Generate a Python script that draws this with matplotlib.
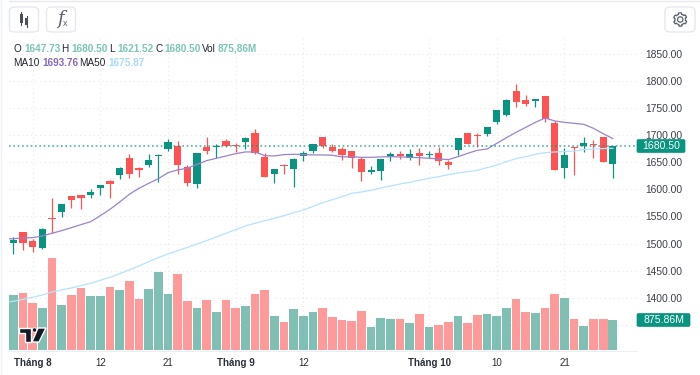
import numpy as np
import matplotlib
matplotlib.use('Agg')
from matplotlib import pyplot as plt
from matplotlib.patches import FancyBboxPatch, Polygon, Rectangle, Ellipse

opens = [1501, 1520.7, 1505.4, 1492.4, 1547.2, 1557.7, 1587.2, 1589, 1590.3, 1602.6,
         1614.9, 1627.2, 1658, 1640.1, 1645, 1661, 1674.6, 1679.5, 1642, 1610.6,
         1677.7, 1678.3, 1689.4, 1682, 1687, 1704.2, 1660.5, 1628.5, 1645.7, 1638.3,
         1661.1, 1671.6, 1696.2, 1677.7, 1674.6, 1670.9, 1656.2, 1632.8, 1634, 1660.5,
         1666, 1658.6, 1667.2, 1663.6, 1667.9, 1651.2, 1672.2, 1703.6, 1700.5, 1701.7,
         1723.8, 1737.4, 1782.3, 1765, 1763.8, 1772.4, 1722.6, 1639.5, 1678.3, 1679.5,
         1683.8, 1696.1, 1647.73]
highs = [1511.5, 1520.7, 1508.4, 1528.7, 1583.5, 1573, 1587.2, 1589.7, 1600.1, 1608.1,
         1616.7, 1640.7, 1665.4, 1640.7, 1664.7, 1664.7, 1692.4, 1689.4, 1645, 1667,
         1696.2, 1683.3, 1693.1, 1685.1, 1696, 1711.6, 1666.6, 1637.1, 1646, 1658.6,
         1670.9, 1683.9, 1696.2, 1683.3, 1677.7, 1671, 1659.2, 1643.2, 1657, 1668.5,
         1670.9, 1674, 1675.9, 1670.3, 1678.9, 1654.3, 1694.3, 1703.6, 1703.6, 1716,
         1746.6, 1766.3, 1794, 1774.3, 1767, 1772.4, 1726.3, 1675.8, 1678.3, 1696.7,
         1691.2, 1696.1, 1680.5]
lows = [1481.4, 1487.5, 1485, 1490, 1518.9, 1549.7, 1566.3, 1563.8, 1584.7, 1590.3,
        1584.7, 1618.6, 1621.7, 1623.5, 1642, 1614.3, 1671.5, 1628.4, 1607, 1603.2,
        1666, 1658, 1677.7, 1669.1, 1674.6, 1664.8, 1623.6, 1611.9, 1627.9, 1604.5,
        1652.5, 1667.9, 1676.5, 1669.7, 1653.7, 1640.2, 1615.6, 1627.9, 1618, 1653.1,
        1656.2, 1654.3, 1644.5, 1657.4, 1645.1, 1637.1, 1663.6, 1684.5, 1678.9, 1698,
        1721.4, 1734.9, 1752.1, 1754, 1752.1, 1724.4, 1635.8, 1620.4, 1626.6, 1668.4,
        1658.6, 1650, 1621.52]
closes = [1506.6, 1501.7, 1494.3, 1527.5, 1545.4, 1573, 1581, 1583.5, 1595.8, 1607.5,
          1610.6, 1640.1, 1629, 1635.8, 1653.7, 1663.5, 1686.9, 1645, 1612.5, 1666.6,
          1671.6, 1680.8, 1680.8, 1680.2, 1695.6, 1666.6, 1623.6, 1637.1, 1642.6, 1656.8,
          1667.2, 1683.9, 1680.2, 1670.3, 1663.6, 1658.6, 1632.8, 1635.2, 1656.8, 1664.8,
          1661.1, 1666, 1661.1, 1665.4, 1653.1, 1645.1, 1694.3, 1684.5, 1698, 1715.9,
          1746.6, 1764.4, 1760.7, 1757, 1766.9, 1730.6, 1635.8, 1662.9, 1677, 1686.3,
          1681.4, 1651.2, 1680.5]
volumes = [1627, 1665, 1376, 1232, 2705, 1328, 1607, 1829, 1598, 1588,
           1858, 1752, 2021, 1511, 1790, 2291, 1636, 2233, 1453, 1232,
           1482, 1107, 1473, 1242, 1290, 1646, 1771, 1011, 837, 1203,
           1011, 1126, 1242, 972, 876, 866, 1136, 674, 953, 924,
           905, 809, 1049, 674, 751, 818, 1011, 809, 1020, 1049,
           1001, 1242, 1502, 1117, 1088, 1232, 1636, 1530, 905, 712,
           924, 905, 875.86]
ma10 = [1508, 1509, 1510.3, 1510.9, 1514, 1518.9, 1523.8, 1529.3, 1534.9, 1540.4, 1551.5,
        1563.2, 1576.7, 1590.9, 1602, 1611.2, 1619.8, 1630.9, 1636, 1639, 1646.3,
        1653.1, 1657.4, 1661.7, 1666, 1669.1, 1669.1, 1662.3, 1661.7, 1664.2, 1664.8,
        1664.2, 1663.6, 1663.6, 1663, 1659.9, 1660.5, 1659.2, 1659.2, 1659.9, 1660.5,
        1659.9, 1659.2, 1658.6, 1657.4, 1656.2, 1655, 1660.5, 1666.6, 1672.2, 1674.6,
        1685, 1695.5, 1705.4, 1714.6, 1723.8, 1731.8, 1726.3, 1723.8, 1722, 1720.1,
        1712.7, 1702.9, 1693.76]
ma50 = [1391.5, 1393.4, 1397, 1400.7, 1405, 1410.6, 1414.3, 1418, 1422.3, 1426.6, 1432.1,
        1437.7, 1444.4, 1451.2, 1458.6, 1466.6, 1474, 1480.7, 1486.9, 1493, 1499.2,
        1505.4, 1512.1, 1518.9, 1525.7, 1532.4, 1537.4, 1542.3, 1546.6, 1551.5, 1557.1,
        1562, 1568.7, 1575.5, 1581, 1586.6, 1592.8, 1595.2, 1598.3, 1602.6, 1606.3,
        1610, 1613, 1616.8, 1620.5, 1623.5, 1627.2, 1630.3, 1632.8, 1635.2, 1640.1,
        1645, 1651.2, 1656.8, 1660.5, 1664.8, 1667.8, 1669.1, 1669.7, 1670.9, 1673.4,
        1674.6, 1675.3, 1675.87]
price_ticks = [1400, 1450, 1500, 1550, 1600, 1650, 1700, 1750, 1800, 1850]
grid_prices = [1350] + price_ticks
date_pos = [2, 9, 16, 23, 30, 43, 50, 57]
date_labels = ['Tháng 8', '12', '21', 'Tháng 9', '12', 'Tháng 10', '10', '21']
date_bold = [True, False, False, True, False, True, False, False]
last_price = 1680.50
last_label = '1680.50'
vol_label = '875.86M'
legend_row1 = [('O', 13), ('1647.73', 24), ('H', 61.5), ('1680.50', 71.5), ('L', 109),
               ('1621.52', 117), ('C', 155), ('1680.50', 164.5), ('Vol', 202), ('875,86M', 218)]
legend_row2 = [('MA10', 13), ('1693.76', 42), ('MA50', 79), ('1675.87', 108)]

GREEN = '#089481'
RED = '#ff5252'
VGREEN = '#7fbfb4'
VRED = '#ff9a9a'
W, H = 700, 375
plt.rcParams['font.family'] = 'Liberation Sans'


def fx(x):
    return x / W


def fy(y):
    return 1 - y / H


fig = plt.figure(figsize=(7, 3.75), dpi=100, facecolor='white')
box = [fx(9), fy(351), fx(637) - fx(9), fy(38) - fy(351)]
ax0 = fig.add_axes(box)
ax2 = fig.add_axes(box, sharex=ax0)
ax = fig.add_axes(box, sharex=ax0, sharey=ax0)
ax2.patch.set_alpha(0)
ax.patch.set_alpha(0)

xs = np.arange(len(closes))
ups = [c >= o for o, c in zip(opens, closes)]

# grid goes in the bottom axes so the volume bars cover it
ax0.set_xlim(-0.445, 64.5)
ax0.set_ylim(1301.6, 1879.5)
ax0.hlines(grid_prices, -1, 65, color='#e6e8ed', lw=0.8, ls=(0, (1, 3)))
ax0.vlines(date_pos, 1301.6, 1879.5, color='#e6e8ed', lw=0.8, ls=(0, (1, 3)))
ax0.tick_params(length=0, labelleft=False, labelbottom=False)

ax2.bar(xs, volumes, width=0.9, color=[VGREEN if u else VRED for u in ups])
ax2.set_ylim(-20, 9120)
ax2.set_yticks([])
ax2.tick_params(axis='x', length=0, labelbottom=False)

for x, l, h, u in zip(xs, lows, highs, ups):
    ax.vlines(x, l, h, color=GREEN if u else RED, lw=0.9, zorder=3)
bottoms = [min(o, c) for o, c in zip(opens, closes)]
heights = [max(abs(c - o), 1.5) for o, c in zip(opens, closes)]
ax.bar(xs, heights, bottom=bottoms, width=0.74, color=[GREEN if u else RED for u in ups], zorder=4)

ma_x = np.arange(-1, len(closes))
ax.plot(ma_x, ma10, color='#9b82cc', lw=0.9, zorder=5)
ax.plot(ma_x, ma50, color='#b5e3fb', lw=0.9, zorder=5)
ax.axhline(last_price, color=GREEN, lw=1.2, ls=(0, (1, 1.6)), alpha=0.7, zorder=6)

ax.set_yticks(price_ticks)
ax.set_yticklabels(['%.2f' % p for p in price_ticks])
ax.yaxis.tick_right()
ax.tick_params(axis='y', length=0, pad=5.8, labelsize=7.4, labelcolor='#3a3f4a')
ax.tick_params(axis='x', length=0, pad=5)
ax.set_xticks(date_pos)
ax.set_xticklabels(date_labels, fontsize=7, color='#2a2e39')
for lab, bold in zip(ax.get_xticklabels(), date_bold):
    if bold:
        lab.set_fontweight('bold')
for a in (ax0, ax, ax2):
    for s in a.spines.values():
        s.set_visible(False)
ax.spines['bottom'].set_visible(True)
ax.spines['bottom'].set_color('#eceef2')

# legend rows
for i, (txt, x) in enumerate(legend_row1):
    fig.text(fx(x), fy(48.7), txt, fontsize=7.2, va='center', color='#7cc4b6' if i % 2 else '#23262e',
             fontweight='bold' if i % 2 else 'normal')
row2_colors = ['#23262e', '#8468bd', '#23262e', '#a6dafb']
for (txt, x), c, b in zip(legend_row2, row2_colors, ['normal', 'bold', 'normal', 'bold']):
    fig.text(fx(x), fy(63.3), txt, fontsize=7.2, va='center', color=c, fontweight=b)


def tag(x0, x1, yc, txt):
    fig.patches.append(FancyBboxPatch((fx(x0), fy(yc + 6.5)), fx(x1 - x0), 13 / H,
                                      boxstyle='round,pad=0,rounding_size=0.003',
                                      transform=fig.transFigure, fc=GREEN, ec=GREEN, lw=0.5, zorder=8))
    fig.text(fx((x0 + x1) / 2), fy(yc), txt, fontsize=7.6, color='white', ha='center', va='center', zorder=9)


tag(637, 685, 146, last_label)
tag(637, 690, 320, vol_label)


def button(x0, x1):
    fig.patches.append(FancyBboxPatch((fx(x0), fy(32)), fx(x1 - x0), 25 / H,
                                      boxstyle='round,pad=0,rounding_size=0.009', mutation_aspect=H / W * 1.9,
                                      transform=fig.transFigure, fc='white', ec='#e3e7f0', lw=0.9))


button(9.5, 38.5)
button(46.5, 75.5)
button(665, 695)

# candle icon
for x, t, b, bt, bb in [(21, 12, 25, 14, 23), (26.5, 16, 27, 18, 25)]:
    fig.add_artist(plt.Line2D([fx(x), fx(x)], [fy(t), fy(b)], color='#4a4e59', lw=0.8))
    fig.patches.append(Rectangle((fx(x - 1.5), fy(bb)), fx(3), (bb - bt) / H, transform=fig.transFigure,
                                 fc='#4a4e59', ec='none'))
# fx icon
fig.text(fx(60), fy(19), 'f', fontsize=13, family='DejaVu Serif', style='italic', color='#5a5f6b',
         ha='center', va='center')
fig.text(fx(65), fy(24), 'x', fontsize=6.5, color='#5a5f6b', ha='center', va='center')

# gear icon
ang = np.linspace(0, 2 * np.pi, 97)[:-1]
rad = 6.7 - 1.4 * (np.cos(6 * ang) < 0)
gx, gy = 680.2 + rad * np.sin(ang), 19.5 + rad * np.cos(ang)
fig.patches.append(Polygon(np.c_[fx(gx), fy(gy)], closed=True, transform=fig.transFigure,
                           fc='none', ec='#5a6070', lw=0.9))
fig.patches.append(Ellipse((fx(680.2), fy(19.5)), 5.4 / W, 5.4 / H,
                           transform=fig.transFigure, fc='none', ec='#5a6070', lw=0.9))

# tradingview logo
logo = [[(19, 328), (31, 328), (31, 342), (25, 342), (25, 333), (19, 333)],
        [(38, 328), (46, 328), (39, 342), (32, 342)]]
for pts in logo:
    fig.patches.append(Polygon([(fx(a), fy(b)) for a, b in pts], closed=True, transform=fig.transFigure,
                               fc='#131722', ec='white', lw=1, zorder=7))
fig.patches.append(Ellipse((fx(34.5), fy(330)), 4.4 / W, 4.4 / H, transform=fig.transFigure,
                           fc='#131722', ec='white', lw=0.6, zorder=7))

# frame lines at top and left
fig.add_artist(plt.Line2D([fx(9), 1], [fy(1), fy(1)], color='#e6e9ee', lw=1))
fig.add_artist(plt.Line2D([fx(1), fx(1)], [0, 1], color='#eef1f7', lw=1))

plt.savefig('out.png', dpi=100)
plt.close()
